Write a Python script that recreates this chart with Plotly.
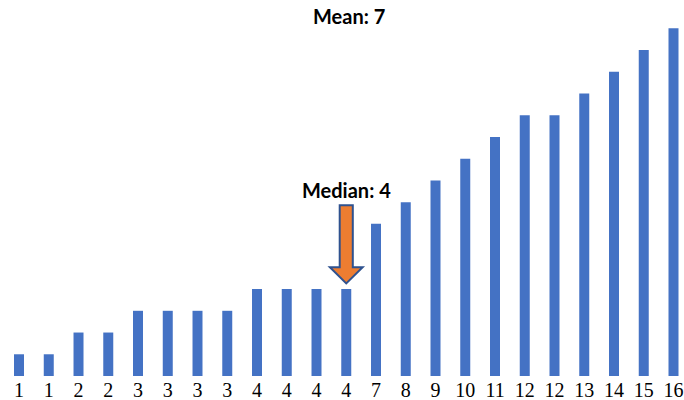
import plotly.graph_objects as go
import statistics

values = [1, 1, 2, 2, 3, 3, 3, 3, 4, 4, 4, 4, 7, 8, 9, 10, 11, 12, 12, 13, 14, 15, 16]
tick_labels = [str(v) for v in values]
positions = list(range(len(values)))

mean_val = round(sum(values) / len(values))
median_val = statistics.median(values)
median_idx = (len(values) - 1) // 2

fig = go.Figure()

fig.add_trace(go.Bar(
    x=positions,
    y=values,
    marker_color="#4472C4",
    marker_line_width=0,
))

# block arrow pointing at the median bar
body = 0.22
head = 0.55
tip = median_val + 0.26
neck = median_val + 1.0
top = median_val + 3.86
cx = median_idx
path = (
    f"M {cx - body} {top} L {cx + body} {top} L {cx + body} {neck} "
    f"L {cx + head} {neck} L {cx} {tip} L {cx - head} {neck} "
    f"L {cx - body} {neck} Z"
)
fig.add_shape(
    type="path", path=path, xref="x", yref="y",
    fillcolor="#ED7D31", line=dict(color="#2F528F", width=2),
)

fig.add_annotation(
    x=cx, y=top + 0.72, xref="x", yref="y",
    text=f"<b>Median: {median_val:g}</b>", showarrow=False,
    font=dict(family="Lato", size=20, color="#000000"),
)
fig.add_annotation(
    x=cx + 0.1, y=0.958, xref="x", yref="paper", yanchor="middle",
    text=f"<b>Mean: {mean_val}</b>", showarrow=False,
    font=dict(family="Lato", size=20, color="#000000"),
)

fig.update_layout(
    width=684,
    height=400,
    margin=dict(l=0, r=0, t=0, b=24),
    plot_bgcolor="white",
    paper_bgcolor="white",
    bargap=0.664,
    showlegend=False,
    xaxis=dict(
        range=[-0.639, 22.353],
        tickmode="array",
        tickvals=positions,
        ticktext=tick_labels,
        showgrid=False,
        showline=False,
        zeroline=False,
        ticks="",
        automargin=False,
        ticklabelstandoff=0,
        tickfont=dict(family="Liberation Serif", size=20, color="#000000"),
    ),
    yaxis=dict(
        range=[0, 17.3],
        visible=False,
    ),
)

fig.write_html(
    "out.html",
    config={"displayModeBar": False},
    post_script="document.body.style.margin='0';",
)
